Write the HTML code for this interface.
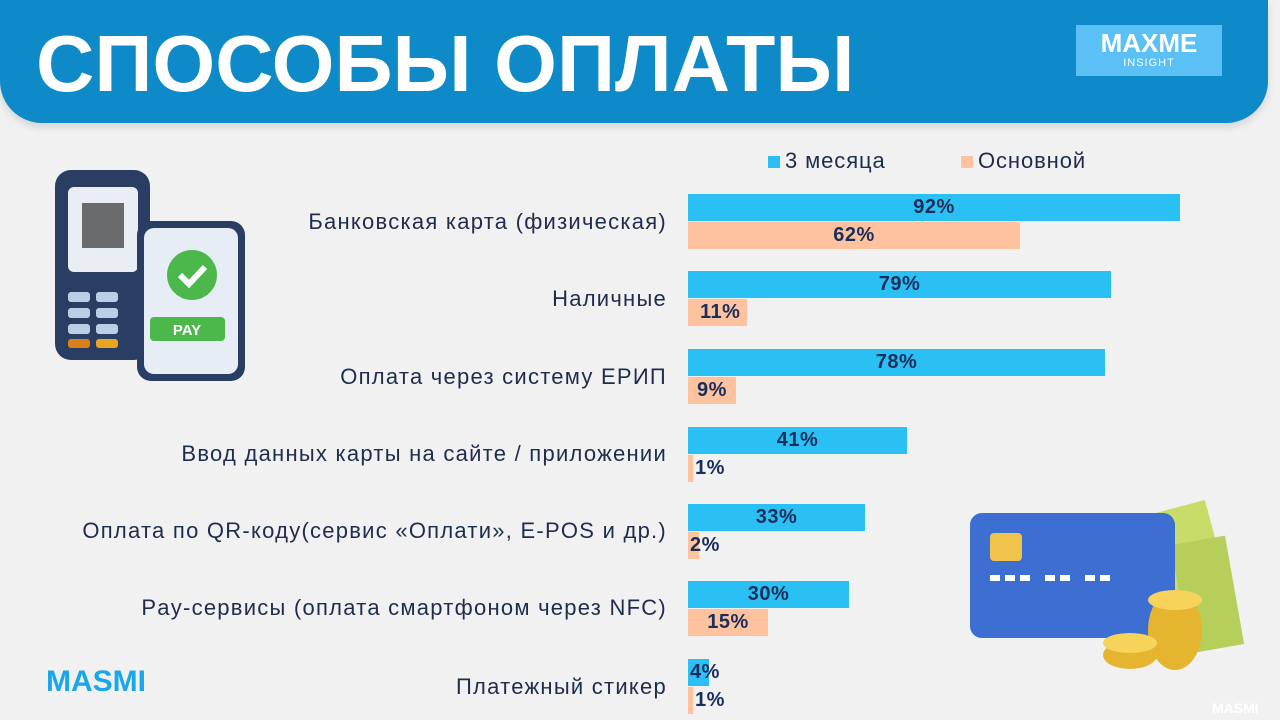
<!DOCTYPE html>
<html><head><meta charset="utf-8"><style>
body{margin:0;width:1280px;height:720px;background:#f1f1f1;position:relative;overflow:hidden;font-family:"Liberation Sans","DejaVu Sans",sans-serif}
.hdr{position:absolute;left:0;top:0;width:1268px;height:123px;background:#0e8ac8;border-radius:0 0 42px 42px;box-shadow:0 4px 8px rgba(0,0,0,.12)}
.title{position:absolute;left:36px;top:18px;color:#fff;font-weight:bold;font-size:80px;letter-spacing:0px;transform:scaleX(1.01);transform-origin:left}
.logo{position:absolute;left:1076px;top:25px;width:146px;height:51px;background:#5bc0f5;color:#fff;text-align:center}
.lab{position:absolute;right:613px;font-size:22px;letter-spacing:1.25px;color:#1f2d4d;white-space:nowrap}
.bar{position:absolute;left:688px;height:27px}
.b{background:#2bc0f4}.o{background:#ffc29e}
.v{position:absolute;font-size:20px;font-weight:bold;color:#1a2e5c;line-height:27px;letter-spacing:0.5px}
.leg{position:absolute;top:148px;font-size:22px;letter-spacing:0.9px;color:#1f2d4d}
.sq{display:inline-block;width:12px;height:12px;margin-right:5px}
</style></head><body>
<div class="hdr"></div>
<div class="title">СПОСОБЫ ОПЛАТЫ</div>
<div class="logo"><div style="font-weight:bold;font-size:26px;line-height:30px;margin-top:3px">MAXME</div><div style="font-size:11px;letter-spacing:1px;line-height:11px">INSIGHT</div></div>
<div class="leg" style="left:768px"><span class="sq b"></span>3 месяца</div>
<div class="leg" style="left:961px"><span class="sq o"></span>Основной</div>

<div class="lab" style="top:209px">Банковская карта (физическая)</div>
<div class="bar b" style="top:194px;width:492px"></div><div class="v" style="top:194px;left:688px;width:492px;text-align:center">92%</div>
<div class="bar o" style="top:222px;width:332px"></div><div class="v" style="top:222px;left:688px;width:332px;text-align:center">62%</div>

<div class="lab" style="top:286px">Наличные</div>
<div class="bar b" style="top:271px;width:423px"></div><div class="v" style="top:271px;left:688px;width:423px;text-align:center">79%</div>
<div class="bar o" style="top:299px;width:59px"></div><div class="v" style="top:299px;left:700px">11%</div>

<div class="lab" style="top:364px">Оплата через систему ЕРИП</div>
<div class="bar b" style="top:349px;width:417px"></div><div class="v" style="top:349px;left:688px;width:417px;text-align:center">78%</div>
<div class="bar o" style="top:377px;width:48px"></div><div class="v" style="top:377px;left:697px">9%</div>

<div class="lab" style="top:441px">Ввод данных карты на сайте / приложении</div>
<div class="bar b" style="top:427px;width:219px"></div><div class="v" style="top:427px;left:688px;width:219px;text-align:center">41%</div>
<div class="bar o" style="top:455px;width:5px"></div><div class="v" style="top:455px;left:695px">1%</div>

<div class="lab" style="top:518px">Оплата по QR-коду(сервис «Оплати», E-POS и др.)</div>
<div class="bar b" style="top:504px;width:177px"></div><div class="v" style="top:504px;left:688px;width:177px;text-align:center">33%</div>
<div class="bar o" style="top:532px;width:11px"></div><div class="v" style="top:532px;left:690px">2%</div>

<div class="lab" style="top:595px">Pay-сервисы (оплата смартфоном через NFC)</div>
<div class="bar b" style="top:581px;width:161px"></div><div class="v" style="top:581px;left:688px;width:161px;text-align:center">30%</div>
<div class="bar o" style="top:609px;width:80px"></div><div class="v" style="top:609px;left:688px;width:80px;text-align:center">15%</div>

<div class="lab" style="top:674px">Платежный стикер</div>
<div class="bar b" style="top:659px;width:21px"></div><div class="v" style="top:659px;left:690px">4%</div>
<div class="bar o" style="top:687px;width:5px"></div><div class="v" style="top:687px;left:695px">1%</div>

<div style="position:absolute;left:46px;top:665px;font-size:30px;font-weight:bold;color:#19a7e8">MASMI</div>
<div style="position:absolute;left:1212px;top:700px;font-size:14px;font-weight:bold;color:#fff">MASMI</div>

<svg style="position:absolute;left:50px;top:165px" width="200" height="220">
<rect x="5" y="5" width="95" height="190" rx="16" fill="#2a3d63"/>
<rect x="18" y="22" width="70" height="85" rx="6" fill="#e8eef4"/>
<rect x="32" y="38" width="42" height="45" fill="#333" opacity=".7"/>
<g fill="#b9cfe6"><rect x="18" y="127" width="22" height="10" rx="3"/><rect x="46" y="127" width="22" height="10" rx="3"/><rect x="18" y="143" width="22" height="10" rx="3"/><rect x="46" y="143" width="22" height="10" rx="3"/><rect x="18" y="159" width="22" height="10" rx="3"/><rect x="46" y="159" width="22" height="10" rx="3"/></g>
<rect x="18" y="174" width="22" height="9" rx="3" fill="#d8801a"/><rect x="46" y="174" width="22" height="9" rx="3" fill="#eaa520"/>
<rect x="87" y="56" width="108" height="160" rx="14" fill="#2a3d63"/>
<rect x="94" y="63" width="94" height="146" rx="10" fill="#e6edf5"/>
<circle cx="142" cy="110" r="25" fill="#4cb84c"/>
<path d="M130 110l9 9 16-17" stroke="#fff" stroke-width="6" fill="none"/>
<rect x="100" y="152" width="75" height="24" rx="4" fill="#4cb84c"/>
<text x="137" y="170" font-size="15" font-weight="bold" fill="#fff" text-anchor="middle" font-family="Liberation Sans">PAY</text>
</svg>

<svg style="position:absolute;left:965px;top:500px" width="290" height="175">
<rect x="200" y="5" width="55" height="110" transform="rotate(-15 228 60)" fill="#c8dc6a"/>
<rect x="215" y="40" width="55" height="110" transform="rotate(-10 240 95)" fill="#b5cf5a"/>
<rect x="5" y="13" width="205" height="125" rx="12" fill="#3c6fd1"/>
<rect x="25" y="33" width="32" height="28" rx="4" fill="#f0c34a"/>
<g fill="#fff"><rect x="25" y="75" width="10" height="6"/><rect x="40" y="75" width="10" height="6"/><rect x="55" y="75" width="10" height="6"/><rect x="80" y="75" width="10" height="6"/><rect x="95" y="75" width="10" height="6"/><rect x="120" y="75" width="10" height="6"/><rect x="135" y="75" width="10" height="6"/></g>
<ellipse cx="165" cy="155" rx="27" ry="14" fill="#e6b530"/><ellipse cx="210" cy="130" rx="27" ry="40" fill="#e6b530"/><ellipse cx="210" cy="100" rx="27" ry="10" fill="#f6d35a"/><ellipse cx="165" cy="143" rx="27" ry="10" fill="#f6d35a"/>
</svg>
</body></html>
